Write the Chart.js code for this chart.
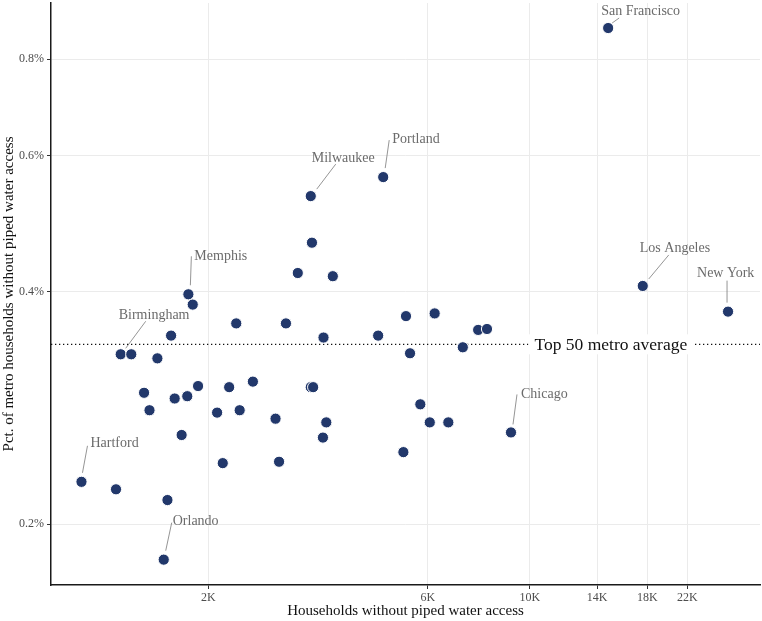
<!DOCTYPE html>
<html>
<head>
<meta charset="utf-8">
<script src="https://cdn.jsdelivr.net/npm/chart.js@4.4.1/dist/chart.umd.min.js"></script>
<style>
html,body{margin:0;padding:0;background:#fff;}
#wrap{width:762px;height:621px;}
</style>
</head>
<body>
<div id="wrap"><canvas id="chart" width="762" height="621"></canvas></div>
<script>
// one entry per metro; only labelled metros carry a name
const metros = [
    "San Francisco", "Portland", "Milwaukee", "", "", "", "Los Angeles", "Memphis", "", "New York",
    "", "", "", "", "", "", "", "", "", "Birmingham",
    "", "", "", "", "", "", "", "", "", "",
    "", "", "", "", "", "", "", "", "", "",
    "Chicago", "", "", "", "", "", "Hartford", "", "", "Orlando"
];
const households = [
    14800, 4800, 3340, 3360, 3130, 3730, 17600, 1810, 1850, 26970,
    5380, 6210, 2300, 2950, 1660, 4680, 3560, 7720, 8070, 1290,
    1360, 1550, 5490, 7150, 2500, 1900, 2220, 1450, 1690, 1800,
    3340, 3380, 5780, 1490, 2090, 2340, 2800, 3610, 6060, 6650,
    9100, 1750, 3550, 5310, 2150, 2850, 1060, 1260, 1630, 1600
];
const pctNoWater = [
    0.878, 0.563, 0.532, 0.463, 0.423, 0.419, 0.407, 0.397, 0.385, 0.377,
    0.372, 0.375, 0.364, 0.364, 0.351, 0.351, 0.349, 0.357, 0.358, 0.332,
    0.332, 0.328, 0.333, 0.339, 0.306, 0.302, 0.301, 0.296, 0.291, 0.293,
    0.301, 0.301, 0.286, 0.281, 0.279, 0.281, 0.274, 0.271, 0.271, 0.271,
    0.263, 0.261, 0.259, 0.248, 0.240, 0.241, 0.227, 0.222, 0.215, 0.180
];
const xTicks = [2000, 6000, 10000, 14000, 18000, 22000];
const yTicks = [0.2, 0.4, 0.6, 0.8];
const averagePct = 0.342;
const avgLabel = "Top 50 metro average";
const avgLabelAt = 15000;

// label placement, pixels relative to the point: text anchor, then leader segment
const labelPos = {
    "San Francisco": [-7, -17, 4, -5, 11, -10],
    "Portland": [9, -38, 2, -9, 6, -37],
    "Milwaukee": [1, -38, 6, -7, 25, -32],
    "Memphis": [6, -38, 2, -9, 3, -38],
    "Birmingham": [-2, -39, 5, -6, 25, -33],
    "Hartford": [9, -38, 1, -9, 6, -36],
    "Orlando": [9, -38, 2, -9, 8, -37],
    "Los Angeles": [-3, -38, 6, -7, 26, -31],
    "New York": [-31, -38, -1, -9, -1, -31],
    "Chicago": [10, -38, 2, -8, 6, -38]
};

const serif = "Liberation Serif";

function noPad(s) {
    s.paddingTop = 0;
    s.paddingBottom = 0;
    s.paddingLeft = 0;
    s.paddingRight = 0;
}

const annotate = {
    id: "annotate",
    beforeDatasetsDraw(chart) {
        const { ctx, chartArea: a, scales: { x, y } } = chart;
        const yy = y.getPixelForValue(averagePct);
        ctx.save();
        ctx.strokeStyle = "#111";
        ctx.lineWidth = 1.3;
        ctx.setLineDash([1.3, 2.7]);
        ctx.beginPath();
        ctx.moveTo(a.left, yy);
        ctx.lineTo(a.right, yy);
        ctx.stroke();
        ctx.setLineDash([]);
        ctx.font = "17.5px '" + serif + "'";
        const cx = x.getPixelForValue(avgLabelAt);
        const w = ctx.measureText(avgLabel).width;
        ctx.fillStyle = "#fff";
        ctx.fillRect(cx - w / 2 - 6, yy - 10, w + 12, 20);
        ctx.fillStyle = "#111";
        ctx.textAlign = "center";
        ctx.textBaseline = "middle";
        ctx.fillText(avgLabel, cx, yy + 1);
        ctx.restore();
    },
    afterDatasetsDraw(chart) {
        const { ctx, scales: { x, y } } = chart;
        ctx.save();
        ctx.font = "14px '" + serif + "'";
        ctx.textAlign = "left";
        ctx.textBaseline = "middle";
        metros.forEach((name, i) => {
            const p = labelPos[name];
            if (!p) return;
            const px = x.getPixelForValue(households[i]);
            const py = y.getPixelForValue(pctNoWater[i]);
            ctx.strokeStyle = "#7a7a7a";
            ctx.lineWidth = 0.8;
            ctx.beginPath();
            ctx.moveTo(px + p[2], py + p[3]);
            ctx.lineTo(px + p[4], py + p[5]);
            ctx.stroke();
            ctx.fillStyle = "#6b6b6b";
            ctx.fillText(name, px + p[0], py + p[1]);
        });
        ctx.restore();
    }
};

new Chart(document.getElementById("chart"), {
    type: "scatter",
    data: {
        datasets: [{
            data: households.map((h, i) => ({ x: h, y: pctNoWater[i] })),
            backgroundColor: "#22386b",
            borderColor: "#ffffff",
            borderWidth: 1,
            pointRadius: 5.6,
            pointHoverRadius: 5.6
        }]
    },
    options: {
        responsive: false,
        animation: false,
        layout: { autoPadding: false, padding: { top: 3, right: 2, left: 0, bottom: 0 } },
        plugins: { legend: { display: false }, tooltip: { enabled: false } },
        scales: {
            x: {
                type: "logarithmic",
                min: 910,
                max: 31650,
                afterBuildTicks: s => { s.ticks = xTicks.map(v => ({ value: v })); },
                afterFit: s => { s.height = 36; noPad(s); },
                ticks: {
                    autoSkip: false, maxRotation: 0, padding: 2, color: "#4d4d4d",
                    font: { family: serif, size: 12 },
                    callback: v => (v / 1000) + "K"
                },
                grid: { color: "#ebebeb", lineWidth: 1, tickColor: "#333", tickLength: 4 },
                border: { color: "#1a1a1a", width: 1.5 },
                title: {
                    display: true, text: "Households without piped water access", color: "#111",
                    font: { family: serif, size: 15 }, padding: { top: 0, bottom: 0.5 }
                }
            },
            y: {
                type: "logarithmic",
                min: 0.1669,
                max: 0.946,
                afterBuildTicks: s => { s.ticks = yTicks.map(v => ({ value: v })); },
                afterFit: s => { s.width = 51; noPad(s); },
                ticks: {
                    autoSkip: false, padding: 3, color: "#4d4d4d",
                    font: { family: serif, size: 12 },
                    callback: v => v + "%"
                },
                grid: { color: "#ebebeb", lineWidth: 1, tickColor: "#333", tickLength: 4 },
                border: { color: "#1a1a1a", width: 1.5 },
                title: {
                    display: true, text: "Pct. of metro households without piped water access", color: "#111",
                    font: { family: serif, size: 15 }, padding: { top: 0, bottom: 0 }
                }
            }
        }
    },
    plugins: [annotate]
});
</script>
</body>
</html>
